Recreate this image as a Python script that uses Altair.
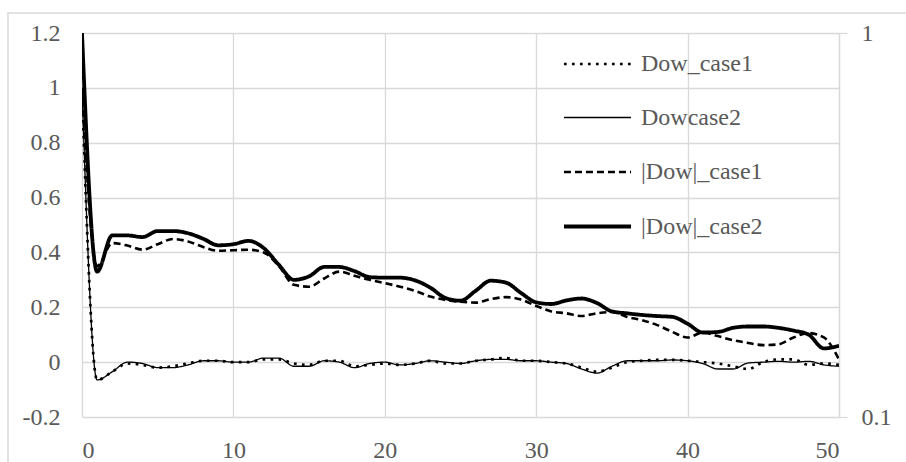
import altair as alt
import pandas as pd

x_vals = list(range(51))

dow_case1 = [1.0, -0.065, -0.035, -0.005, -0.01, -0.02, -0.015, -0.005, 0.005, 0.005,
             0.0, 0.0, 0.01, 0.01, -0.005, -0.01, 0.005, 0.005, -0.015, -0.01,
             -0.005, -0.01, -0.005, 0.005, -0.005, -0.005, 0.005, 0.01, 0.015, 0.005,
             0.005, 0.0, -0.005, -0.02, -0.035, -0.02, 0.0, 0.005, 0.008, 0.008,
             0.005, 0.0, -0.005, -0.015, -0.025, 0.0, 0.01, 0.01, -0.01, -0.005, -0.01]

dowcase2 = [1.0, -0.065, -0.035, 0.0, -0.005, -0.02, -0.02, -0.01, 0.005, 0.005,
            0.0, 0.0, 0.015, 0.015, -0.015, -0.015, 0.005, 0.0, -0.02, -0.005,
            0.0, -0.01, -0.005, 0.005, 0.0, -0.005, 0.005, 0.01, 0.01, 0.005,
            0.005, 0.0, -0.005, -0.025, -0.04, -0.015, 0.005, 0.005, 0.005, 0.008,
            0.005, -0.005, -0.025, -0.025, -0.003, 0.0, 0.003, 0.0, 0.003, -0.01, -0.015]

absdow_case1 = [1.0, 0.35, 0.434, 0.425, 0.41, 0.43, 0.449, 0.44, 0.42, 0.406,
                0.408, 0.41, 0.40, 0.35, 0.282, 0.275, 0.305, 0.33, 0.315, 0.30,
                0.288, 0.275, 0.26, 0.239, 0.227, 0.22, 0.217, 0.23, 0.237, 0.228,
                0.205, 0.185, 0.178, 0.168, 0.178, 0.183, 0.165, 0.153, 0.135, 0.11,
                0.09, 0.108, 0.095, 0.08, 0.07, 0.062, 0.065, 0.09, 0.106, 0.09, 0.01]

absdow_case2 = [1.2, 0.33, 0.462, 0.462, 0.456, 0.478, 0.478, 0.47, 0.45, 0.426,
                0.43, 0.442, 0.416, 0.355, 0.30, 0.313, 0.347, 0.347, 0.332, 0.31,
                0.308, 0.308, 0.298, 0.272, 0.234, 0.224, 0.26, 0.297, 0.29, 0.252,
                0.218, 0.212, 0.225, 0.232, 0.216, 0.185, 0.178, 0.172, 0.168, 0.165,
                0.14, 0.108, 0.11, 0.125, 0.13, 0.13, 0.125, 0.115, 0.1, 0.05, 0.06]

series_names = ["Dow_case1", "Dowcase2", "|Dow|_case1", "|Dow|_case2"]
x_ticks = [0, 10, 20, 30, 40, 50]
left_ticks = [-0.2, 0, 0.2, 0.4, 0.6, 0.8, 1, 1.2]
right_ticks = [0.1, 1]

rows = []
for name, vals in zip(series_names, [dow_case1, dowcase2, absdow_case1, absdow_case2]):
    for x, v in zip(x_vals, vals):
        rows.append({"x": x, "v": v, "series": name})
df = pd.DataFrame(rows)

FONT = "Liberation Serif"
FS = 24
TXT = "#595959"
GRID = "#d9d9d9"

legend = alt.Legend(
    title=None, orient="none", legendX=480, legendY=-4,
    symbolType="stroke", symbolSize=4500, labelFont=FONT, labelFontSize=FS,
    labelColor=TXT, rowPadding=7, labelOffset=8, padding=0, labelLimit=300,
)

lines = alt.Chart(df).mark_line(interpolate="monotone", clip=True).encode(
    x=alt.X("x:Q", scale=alt.Scale(domain=[0, 50], nice=False, zero=False),
            axis=alt.Axis(values=x_ticks, title=None, grid=True, ticks=False, domain=False,
                          labelPadding=21, labelFont=FONT, labelFontSize=FS, labelColor=TXT,
                          gridColor=GRID, gridWidth=1.3)),
    y=alt.Y("v:Q", scale=alt.Scale(domain=[-0.2, 1.2], nice=False),
            axis=alt.Axis(values=left_ticks, title=None, grid=True, ticks=False, domain=False,
                          labelPadding=22, labelFont=FONT, labelFontSize=FS, labelColor=TXT,
                          gridColor=GRID, gridWidth=1.3,
                          labelExpr="datum.value < 0 ? '-' + format(-datum.value, '~g') : format(datum.value, '~g')")),
    color=alt.Color("series:O", sort=series_names,
                    scale=alt.Scale(domain=series_names, range=["#000000"] * 4), legend=legend),
    strokeDash=alt.StrokeDash("series:O", sort=series_names,
                              scale=alt.Scale(domain=series_names,
                                              range=[[2.7, 5.3], [1, 0], [7, 4], [1, 0]]), legend=legend),
    strokeWidth=alt.StrokeWidth("series:O", sort=series_names,
                                scale=alt.Scale(type="ordinal", domain=series_names,
                                                range=[2.7, 1.3, 2.6, 3.8]), legend=legend),
)

right = alt.Chart(pd.DataFrame({"r": right_ticks})).mark_point(opacity=0).encode(
    y=alt.Y("r:Q", scale=alt.Scale(type="log", domain=[0.1, 1], nice=False),
            axis=alt.Axis(orient="right", values=right_ticks, title=None, grid=False,
                          domain=True, domainColor=GRID, domainWidth=1.3,
                          ticks=True, tickColor=GRID, tickSize=8, tickWidth=1.3,
                          labelPadding=14, labelFont=FONT, labelFontSize=FS, labelColor=TXT,
                          labelExpr="format(datum.value, '~g')")),
)

frame = alt.Chart(alt.Data(values=[{"f": 1}])).mark_rect(
    fillOpacity=0, stroke=GRID, strokeWidth=1.5
).encode(x=alt.value(-74), x2=alt.value(900), y=alt.value(-20), y2=alt.value(600))

chart = alt.layer(frame, lines, right).resolve_scale(
    y="independent"
).properties(
    width=757, height=384,
    autosize=alt.AutoSizeParams(type="none"),
    padding={"left": 82, "top": 33, "right": 67, "bottom": 45},
).configure_view(strokeWidth=0)

chart.save("out.html", embed_options={"renderer": "svg", "actions": False})
